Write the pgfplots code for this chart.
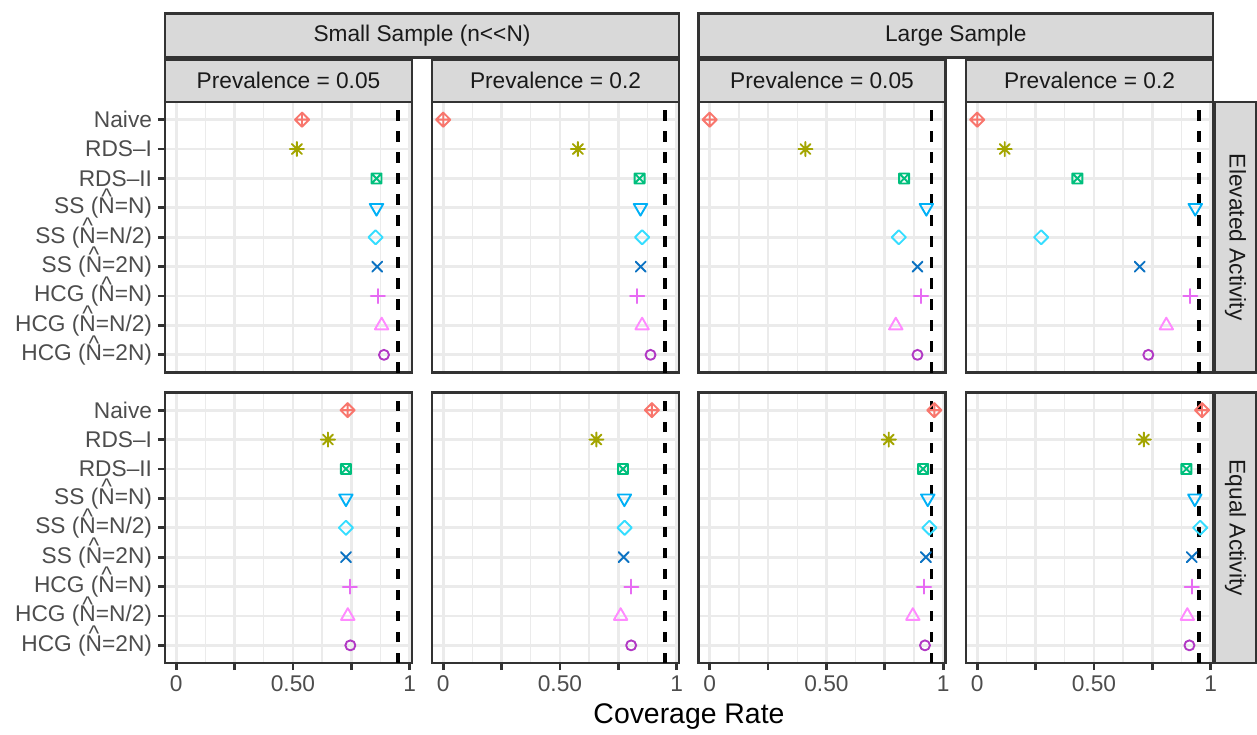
\documentclass[border=0pt]{standalone}
\usepackage{fontspec}
\setmainfont{Liberation Sans}
\usepackage{pgfplots}
\pgfplotsset{compat=1.18}
\usepackage{pgfplotstable}

\definecolor{cA}{HTML}{F8766D}
\definecolor{cB}{HTML}{A3A500}
\definecolor{cC}{HTML}{00BF7D}
\definecolor{cD}{HTML}{00B0F6}
\definecolor{cE}{HTML}{35DDFF}
\definecolor{cF}{HTML}{0B72C2}
\definecolor{cG}{HTML}{E76BF3}
\definecolor{cH}{HTML}{FF8AFF}
\definecolor{cI}{HTML}{B138C4}
\definecolor{grey10}{HTML}{1A1A1A}
\definecolor{grey20}{HTML}{333333}
\definecolor{grey30}{HTML}{4D4D4D}
\definecolor{grey85}{HTML}{D9D9D9}
\definecolor{grey92}{HTML}{EBEBEB}

% ggplot-like point shapes (RADIUS = 5)
\pgfdeclareplotmark{ggdiaplus}{%
 \pgfpathmoveto{\pgfqpoint{0pt}{7.07pt}}\pgfpathlineto{\pgfqpoint{7.07pt}{0pt}}%
 \pgfpathlineto{\pgfqpoint{0pt}{-7.07pt}}\pgfpathlineto{\pgfqpoint{-7.07pt}{0pt}}\pgfpathclose
 \pgfpathmoveto{\pgfqpoint{0pt}{7.07pt}}\pgfpathlineto{\pgfqpoint{0pt}{-7.07pt}}%
 \pgfpathmoveto{\pgfqpoint{-7.07pt}{0pt}}\pgfpathlineto{\pgfqpoint{7.07pt}{0pt}}%
 \pgfusepathqstroke}
\pgfdeclareplotmark{ggast}{%
 \pgfpathmoveto{\pgfqpoint{0pt}{7.07pt}}\pgfpathlineto{\pgfqpoint{0pt}{-7.07pt}}%
 \pgfpathmoveto{\pgfqpoint{-7.07pt}{0pt}}\pgfpathlineto{\pgfqpoint{7.07pt}{0pt}}%
 \pgfpathmoveto{\pgfqpoint{-5pt}{-5pt}}\pgfpathlineto{\pgfqpoint{5pt}{5pt}}%
 \pgfpathmoveto{\pgfqpoint{-5pt}{5pt}}\pgfpathlineto{\pgfqpoint{5pt}{-5pt}}%
 \pgfusepathqstroke}
\pgfdeclareplotmark{ggsqx}{%
 \pgfpathrectangle{\pgfqpoint{-5pt}{-5pt}}{\pgfqpoint{10pt}{10pt}}%
 \pgfpathmoveto{\pgfqpoint{-5pt}{-5pt}}\pgfpathlineto{\pgfqpoint{5pt}{5pt}}%
 \pgfpathmoveto{\pgfqpoint{-5pt}{5pt}}\pgfpathlineto{\pgfqpoint{5pt}{-5pt}}%
 \pgfusepathqstroke}
\pgfdeclareplotmark{ggtridown}{%
 \pgfpathmoveto{\pgfqpoint{0pt}{-7.78pt}}\pgfpathlineto{\pgfqpoint{6.73pt}{3.89pt}}%
 \pgfpathlineto{\pgfqpoint{-6.73pt}{3.89pt}}\pgfpathclose
 \pgfusepathqstroke}
\pgfdeclareplotmark{ggdia}{%
 \pgfpathmoveto{\pgfqpoint{0pt}{7.07pt}}\pgfpathlineto{\pgfqpoint{7.07pt}{0pt}}%
 \pgfpathlineto{\pgfqpoint{0pt}{-7.07pt}}\pgfpathlineto{\pgfqpoint{-7.07pt}{0pt}}\pgfpathclose
 \pgfusepathqstroke}
\pgfdeclareplotmark{ggx}{%
 \pgfpathmoveto{\pgfqpoint{-5pt}{-5pt}}\pgfpathlineto{\pgfqpoint{5pt}{5pt}}%
 \pgfpathmoveto{\pgfqpoint{-5pt}{5pt}}\pgfpathlineto{\pgfqpoint{5pt}{-5pt}}%
 \pgfusepathqstroke}
\pgfdeclareplotmark{ggplus}{%
 \pgfpathmoveto{\pgfqpoint{0pt}{7.07pt}}\pgfpathlineto{\pgfqpoint{0pt}{-7.07pt}}%
 \pgfpathmoveto{\pgfqpoint{-7.07pt}{0pt}}\pgfpathlineto{\pgfqpoint{7.07pt}{0pt}}%
 \pgfusepathqstroke}
\pgfdeclareplotmark{ggtriup}{%
 \pgfpathmoveto{\pgfqpoint{0pt}{7.78pt}}\pgfpathlineto{\pgfqpoint{6.73pt}{-3.89pt}}%
 \pgfpathlineto{\pgfqpoint{-6.73pt}{-3.89pt}}\pgfpathclose
 \pgfusepathqstroke}
\pgfdeclareplotmark{ggcirc}{%
 \pgfpathcircle{\pgfpointorigin}{5pt}%
 \pgfusepathqstroke}

\newcommand{\Nhat}{\ooalign{N\cr\hidewidth\smash{\raisebox{0.42em}{\textasciicircum}}\hidewidth\cr}}
\newcommand{\ticksize}{\fontsize{22.7}{27}\selectfont}

% y: 9 = Naive ... 1 = HCG (N=2N)
\pgfplotstableread{
x y c
0.539 9 a
0.517 8 b
0.858 7 c
0.858 6 d
0.854 5 e
0.861 4 f
0.864 3 g
0.880 2 h
0.890 1 i
}\tA
\pgfplotstableread{
x y c
0.000 9 a
0.577 8 b
0.841 7 c
0.845 6 d
0.852 5 e
0.846 4 f
0.831 3 g
0.852 2 h
0.888 1 i
}\tB
\pgfplotstableread{
x y c
0.000 9 a
0.410 8 b
0.833 7 c
0.928 6 d
0.810 5 e
0.890 4 f
0.905 3 g
0.797 2 h
0.890 1 i
}\tC
\pgfplotstableread{
x y c
0.000 9 a
0.118 8 b
0.429 7 c
0.934 6 d
0.274 5 e
0.696 4 f
0.913 3 g
0.810 2 h
0.733 1 i
}\tD
\pgfplotstableread{
x y c
0.734 9 a
0.650 8 b
0.727 7 c
0.727 6 d
0.727 5 e
0.727 4 f
0.744 3 g
0.735 2 h
0.746 1 i
}\tE
\pgfplotstableread{
x y c
0.894 9 a
0.656 8 b
0.770 7 c
0.776 6 d
0.777 5 e
0.773 4 f
0.806 3 g
0.760 2 h
0.805 1 i
}\tF
\pgfplotstableread{
x y c
0.962 9 a
0.767 8 b
0.914 7 c
0.934 6 d
0.941 5 e
0.926 4 f
0.918 3 g
0.870 2 h
0.922 1 i
}\tG
\pgfplotstableread{
x y c
0.963 9 a
0.714 8 b
0.896 7 c
0.932 6 d
0.955 5 e
0.919 4 f
0.919 3 g
0.900 2 h
0.909 1 i
}\tH

\pgfplotsset{
 panel/.style={
  width=247pt, height=270.5pt, scale only axis,
  xmin=-0.048, xmax=1.01, ymin=0.4, ymax=9.6,
  xtick={0,0.25,0.5,0.75,1}, minor xtick={0.125,0.375,0.625,0.875},
  ytick={1,...,9},
  xmajorgrids, xminorgrids, ymajorgrids,
  major grid style={grey92, line width=2.76pt},
  minor grid style={grey92, line width=1.38pt},
  axis line style={grey20, line width=2.76pt},
  tick align=outside, xtick pos=bottom, ytick pos=left,
  major tick length=7.1pt, minor tick length=0pt,
  tick style={grey20, line width=2.76pt},
  xticklabels={}, yticklabels={},
  ticklabel style={font=\ticksize, text=grey30},
  xticklabel style={inner sep=0pt, yshift=-5.7pt},
  yticklabel style={inner sep=0pt, xshift=-5.7pt},
 },
 dots/.style={
  scatter, only marks, scatter src=explicit symbolic,
  mark options={line width=1.9pt, line cap=round, line join=round, solid},
  scatter/classes={
   a={mark=ggdiaplus, cA}, b={mark=ggast, cB}, c={mark=ggsqx, cC},
   d={mark=ggtridown, cD}, e={mark=ggdia, cE}, f={mark=ggx, cF},
   g={mark=ggplus, cG}, h={mark=ggtriup, cH}, i={mark=ggcirc, cI}},
 },
 vref/.style={black, line width=3.1pt, dash pattern=on 10.5pt off 10.5pt, no marks},
 ylabs/.style={yticklabels={{HCG (\Nhat=2N)},{HCG (\Nhat=N/2)},{HCG (\Nhat=N)},{SS (\Nhat=2N)},{SS (\Nhat=N/2)},{SS (\Nhat=N)},{RDS--II},{RDS--I},{Naive}}},
 xlabs/.style={xticklabels={0,,0.50,,1}},
 noy/.style={ytick style={draw=none}},
 nox/.style={xtick style={draw=none}},
}

\begin{document}
\begin{tikzpicture}
\path[use as bounding box] (0,0) rectangle (1257pt,-734pt);

% top row
\begin{axis}[panel, ylabs, nox, at={(165pt,-102pt)}, anchor=north west]
\addplot[dots] table[x=x, y=y, meta=c] {\tA};
\addplot[vref] coordinates {(0.95,0.4) (0.95,9.6)};
\end{axis}
\begin{axis}[panel, noy, nox, at={(432pt,-102pt)}, anchor=north west]
\addplot[dots] table[x=x, y=y, meta=c] {\tB};
\addplot[vref] coordinates {(0.95,0.4) (0.95,9.6)};
\end{axis}
\begin{axis}[panel, noy, nox, at={(698.5pt,-102pt)}, anchor=north west]
\addplot[dots] table[x=x, y=y, meta=c] {\tC};
\addplot[vref] coordinates {(0.95,0.4) (0.95,9.6)};
\end{axis}
\begin{axis}[panel, noy, nox, at={(966pt,-102pt)}, anchor=north west]
\addplot[dots] table[x=x, y=y, meta=c] {\tD};
\addplot[vref] coordinates {(0.95,0.4) (0.95,9.6)};
\end{axis}

% bottom row
\begin{axis}[panel, ylabs, xlabs, at={(165pt,-392.5pt)}, anchor=north west]
\addplot[dots] table[x=x, y=y, meta=c] {\tE};
\addplot[vref] coordinates {(0.95,0.4) (0.95,9.6)};
\end{axis}
\begin{axis}[panel, noy, xlabs, at={(432pt,-392.5pt)}, anchor=north west]
\addplot[dots] table[x=x, y=y, meta=c] {\tF};
\addplot[vref] coordinates {(0.95,0.4) (0.95,9.6)};
\end{axis}
\begin{axis}[panel, noy, xlabs, at={(698.5pt,-392.5pt)}, anchor=north west]
\addplot[dots] table[x=x, y=y, meta=c] {\tG};
\addplot[vref] coordinates {(0.95,0.4) (0.95,9.6)};
\end{axis}
\begin{axis}[panel, noy, xlabs, at={(966pt,-392.5pt)}, anchor=north west]
\addplot[dots] table[x=x, y=y, meta=c] {\tH};
\addplot[vref] coordinates {(0.95,0.4) (0.95,9.6)};
\end{axis}

% strips
\begin{scope}[every node/.style={text=grey10, font=\ticksize, inner sep=0pt}]
\draw[grey20, line width=2.76pt, fill=grey85] (165pt,-13.5pt) rectangle (679pt,-57.5pt);
\draw[grey20, line width=2.76pt, fill=grey85] (698.5pt,-13.5pt) rectangle (1213pt,-57.5pt);
\node at (422pt,-35.5pt) {Small Sample (n{<}{<}N)};
\node at (955.75pt,-35.5pt) {Large Sample};
\draw[grey20, line width=2.76pt, fill=grey85] (165pt,-59.5pt) rectangle (412pt,-102pt);
\draw[grey20, line width=2.76pt, fill=grey85] (432pt,-59.5pt) rectangle (679pt,-102pt);
\draw[grey20, line width=2.76pt, fill=grey85] (698.5pt,-59.5pt) rectangle (945.5pt,-102pt);
\draw[grey20, line width=2.76pt, fill=grey85] (966pt,-59.5pt) rectangle (1213pt,-102pt);
\node at (288.5pt,-80.75pt) {Prevalence = 0.05};
\node at (555.5pt,-80.75pt) {Prevalence = 0.2};
\node at (822pt,-80.75pt) {Prevalence = 0.05};
\node at (1089.5pt,-80.75pt) {Prevalence = 0.2};
\draw[grey20, line width=2.76pt, fill=grey85] (1214.5pt,-102pt) rectangle (1256pt,-372.5pt);
\draw[grey20, line width=2.76pt, fill=grey85] (1214.5pt,-392.5pt) rectangle (1256pt,-663pt);
\node[rotate=-90] at (1235.5pt,-237.25pt) {Elevated Activity};
\node[rotate=-90] at (1235.5pt,-527.75pt) {Equal Activity};
\end{scope}

\node[font=\fontsize{28.4}{34}\selectfont, text=black, inner sep=0pt] at (689pt,-717pt) {Coverage Rate};
\end{tikzpicture}
\end{document}
